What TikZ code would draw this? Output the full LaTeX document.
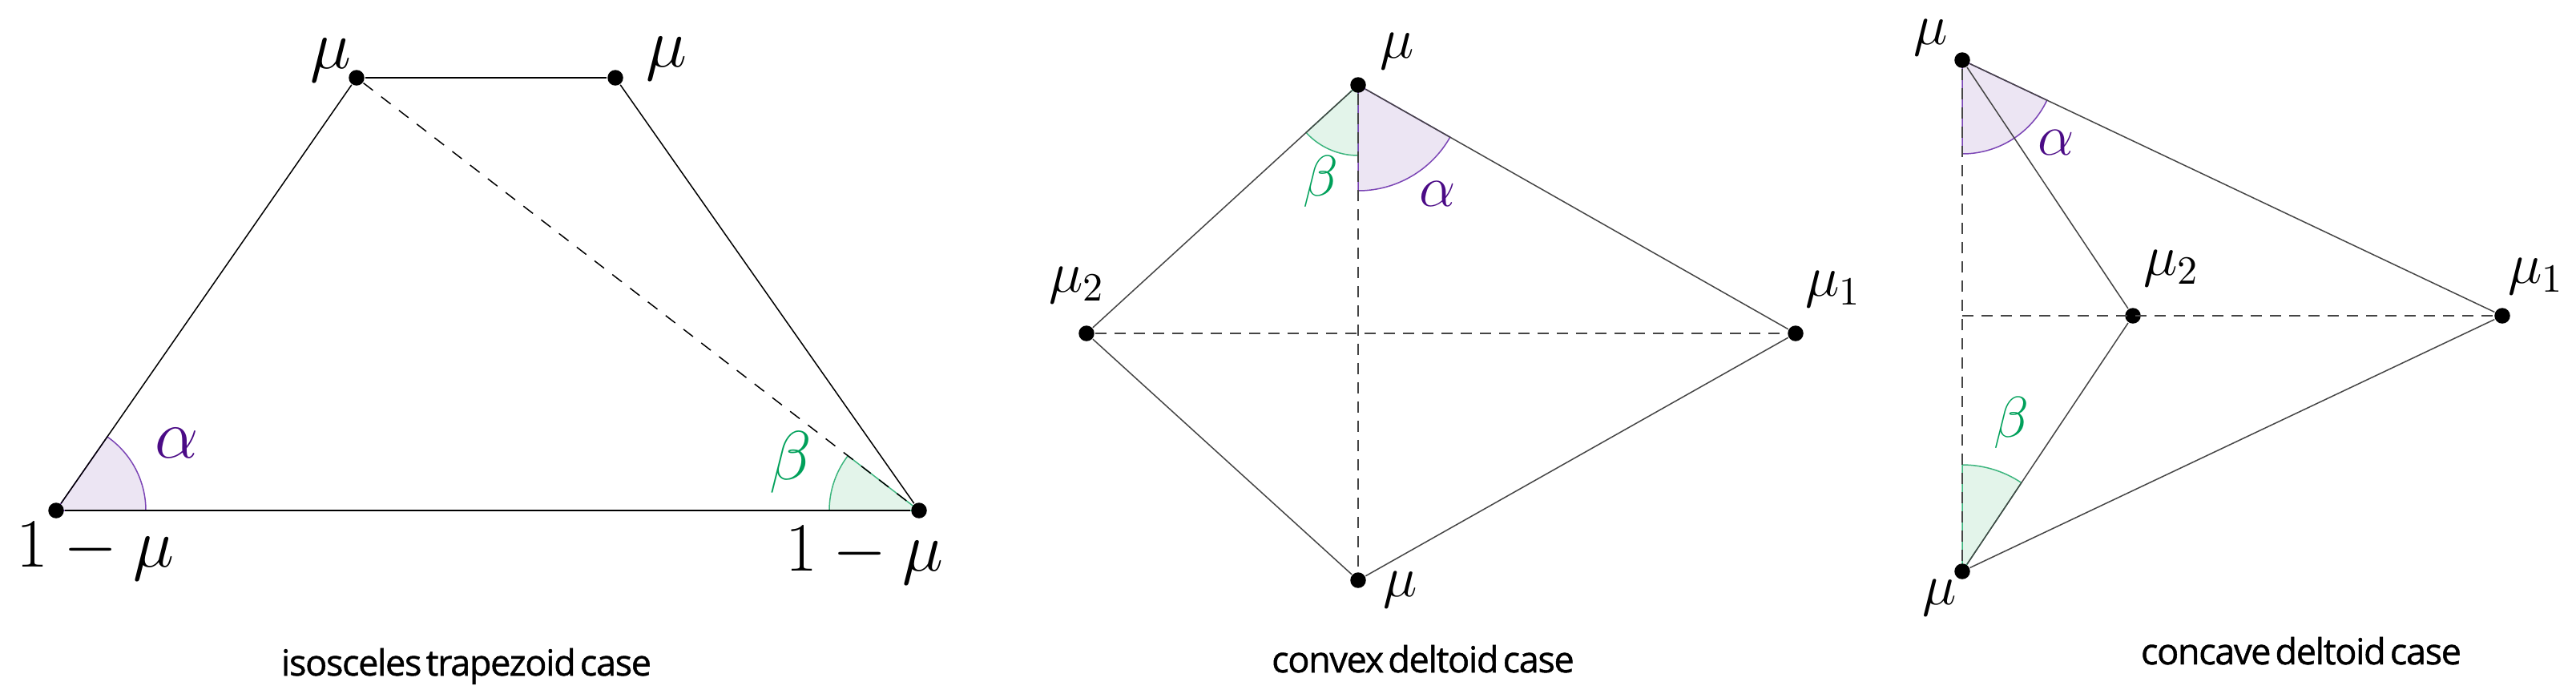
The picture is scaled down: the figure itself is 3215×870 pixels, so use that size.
\documentclass[tikz,border=0pt]{standalone}
\usepackage{fontspec}
\newfontfamily\capfont{Open Sans}[WordSpace=0.5,FakeBold=1,LetterSpace=-3]
\definecolor{purptext}{HTML}{4B0B86}
\definecolor{purpline}{HTML}{7B45B5}
\definecolor{purpfill}{HTML}{ECE5F3}
\definecolor{grntext}{HTML}{00A05A}
\definecolor{grnline}{HTML}{3DB57E}
\definecolor{grnfill}{HTML}{E3F4EA}
\definecolor{dgray}{HTML}{454545}
\tikzset{
  vdot/.style={circle,fill=black,inner sep=0pt,minimum size=3.9pt},
  tlbl/.style={inner sep=0pt,font=\fontsize{17}{20}\selectfont},
  dlbl/.style={inner sep=0pt,font=\fontsize{14.5}{17}\selectfont},
  tedge/.style={line width=0.3pt,black},
  tbase/.style={line width=0.45pt,black},
  tdash/.style={line width=0.3pt,black,dash pattern=on 3pt off 2.6pt},
  dedge/.style={line width=0.3pt,dgray},
  ddash/.style={line width=0.3pt,dgray,dash pattern=on 2.8pt off 2pt},
  psector/.style={fill=purpfill,draw=purpline,line width=0.3pt},
  gsector/.style={fill=grnfill,draw=grnline,line width=0.3pt},
  capt/.style={inner sep=0pt,anchor=base,font=\capfont\fontsize{9}{11}\selectfont}
}
\begin{document}
\begin{tikzpicture}[x=0.2pt,y=-0.2pt]
\useasboundingbox (0,0) rectangle (3215,870);
% ---------- isosceles trapezoid ----------
\coordinate (pBL) at (70,637);
\coordinate (pBR) at (1147,637);
\coordinate (pTL) at (445,97);
\coordinate (pTR) at (768,97);
\filldraw[psector] (pBL) -- ++(0:112) arc[start angle=0,end angle=-55.22,radius=112] -- cycle;
\filldraw[gsector] (pBR) -- ++(180:112) arc[start angle=180,end angle=217.57,radius=112] -- cycle;
\node[vdot] (tBL) at (pBL) {};
\node[vdot] (tBR) at (pBR) {};
\node[vdot] (tTL) at (pTL) {};
\node[vdot] (tTR) at (pTR) {};
\draw[tbase] (tBL) -- (tBR);
\draw[tedge] (tBL) -- (tTL);
\draw[tedge] (tTL) -- (tTR);
\draw[tedge] (tTR) -- (tBR);
\draw[tdash] (tTL) -- (tBR);
\node[tlbl] (lTL) at (413,75) {$\mu$};
\node[tlbl] (lTR) at (832,73) {$\mu$};
\node[tlbl] (lBL) at (119,688) {$1-\mu$};
\node[tlbl] (lBR) at (1079,693) {$1-\mu$};
\node[tlbl,text=purptext] (lA1) at (221,553) {$\alpha$};
\node[tlbl,text=grntext] (lB1) at (987,577) {$\beta$};
\node[capt] (cap1) at (582,843) {isosceles trapezoid case};
% ---------- convex deltoid ----------
\coordinate (qT) at (1695,106);
\coordinate (qL) at (1356,416);
\coordinate (qR) at (2241,416);
\coordinate (qB) at (1695,724);
\filldraw[gsector] (qT) -- ++(90:88) arc[start angle=90,end angle=137.56,radius=88] -- cycle;
\filldraw[psector] (qT) -- ++(29.58:132) arc[start angle=29.58,end angle=90,radius=132] -- cycle;
\node[vdot] (vT) at (qT) {};
\node[vdot] (vL) at (qL) {};
\node[vdot] (vR) at (qR) {};
\node[vdot] (vB) at (qB) {};
\draw[dedge] (vT) -- (vL) -- (vB) -- (vR) -- (vT);
\draw[ddash] (vT) -- (vB);
\draw[ddash] (vL) -- (vR);
\node[dlbl] (mT) at (1744,64) {$\mu$};
\node[dlbl] (mL) at (1344,356) {$\mu_2$};
\node[dlbl] (mR) at (2288,361) {$\mu_1$};
\node[dlbl] (mB) at (1748,736) {$\mu$};
\node[dlbl,text=grntext] (mBeta) at (1648,226) {$\beta$};
\node[dlbl,text=purptext] (mAlpha) at (1794,242) {$\alpha$};
\node[capt] (cap2) at (1776,839) {convex deltoid case};
% ---------- concave deltoid ----------
\coordinate (rT) at (2449,75);
\coordinate (rM2) at (2662,394);
\coordinate (rM1) at (3123,394);
\coordinate (rB) at (2449,713);
\coordinate (rH) at (2449,394);
\filldraw[psector] (rT) -- ++(25.33:117) arc[start angle=25.33,end angle=90,radius=117] -- cycle;
\filldraw[gsector] (rB) -- ++(-90:133) arc[start angle=-90,end angle=-56.27,radius=133] -- cycle;
\node[vdot] (wT) at (rT) {};
\node[vdot] (wM2) at (rM2) {};
\node[vdot] (wM1) at (rM1) {};
\node[vdot] (wB) at (rB) {};
\draw[dedge] (wT) -- (wM2) -- (wB) -- (wM1) -- (wT);
\draw[ddash] (wT) -- (wB);
\draw[ddash] (rH) -- (wM1);
\node[dlbl] (nT) at (2410,47) {$\mu$};
\node[dlbl] (nM2) at (2710,335) {$\mu_2$};
\node[dlbl] (nM1) at (3165,345) {$\mu_1$};
\node[dlbl] (nB) at (2421,746) {$\mu$};
\node[dlbl,text=purptext] (nAlpha) at (2566,178) {$\alpha$};
\node[dlbl,text=grntext] (nBeta) at (2510,527) {$\beta$};
\node[capt] (cap3) at (2872,829) {concave deltoid case};
\end{tikzpicture}
\end{document}
